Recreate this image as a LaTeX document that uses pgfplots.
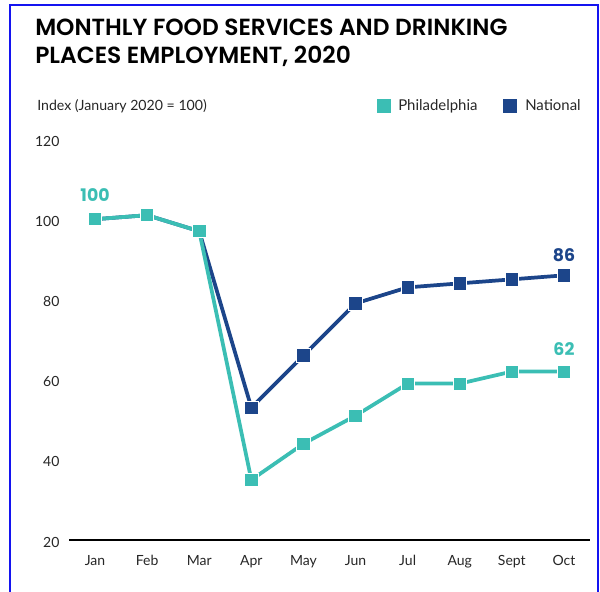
\documentclass[border=0pt]{standalone}
\usepackage{pgfplots}
\pgfplotsset{compat=1.18}
\usepackage{fontspec}
\setmainfont{Lato}
\newfontfamily\titlefont{Poppins SemiBold}
\newfontfamily\valfont{Poppins}
\definecolor{teal1}{RGB}{59,190,180}
\definecolor{navy1}{RGB}{28,69,138}
\definecolor{frameblue}{RGB}{20,20,240}
\begin{document}
\begin{tikzpicture}
\begin{scope}[x=0.75pt,y=0.75pt]
\useasboundingbox (0,0) rectangle (600,-592);
\draw[frameblue, line width=1.5pt] (10,-592) -- (10,-5) -- (598,-5) -- (598,-592);
\node[anchor=base west, inner sep=0pt, font=\titlefont\fontsize{17.5}{20}\selectfont] at (35,-36) {MONTHLY FOOD SERVICES AND DRINKING};
\node[anchor=base west, inner sep=0pt, font=\titlefont\fontsize{17.5}{20}\selectfont] at (35,-64) {PLACES EMPLOYMENT, 2020};
\node[anchor=base west, inner sep=0pt, font=\fontsize{10.6}{12}\selectfont, text=black!85] at (37,-111) {Index (January 2020 = 100)};
\fill[teal1] (377,-99) rectangle (391,-113);
\node[anchor=base west, inner sep=0pt, font=\fontsize{11.2}{12}\selectfont, text=black!85] at (398,-110) {Philadelphia};
\fill[navy1] (503,-99) rectangle (517,-113);
\node[anchor=base west, inner sep=0pt, font=\fontsize{11.2}{12}\selectfont, text=black!85] at (525,-110) {National};
\end{scope}
\begin{axis}[
  at={(51.75pt,-405pt)}, anchor=south west,
  scale only axis, width=390.75pt, height=300.75pt,
  xmin=-0.5, xmax=9.5, ymin=20, ymax=120,
  xtick={0,...,9},
  xticklabels={Jan,Feb,Mar,Apr,May,Jun,Jul,Aug,Sept,Oct},
  ytick={20,40,60,80,100,120},
  axis x line*=bottom, axis y line=none,
  x axis line style={line width=1.2pt, black, -},
  major tick length=0pt,
  ymajorgrids, grid style={gray!35, dashed, line width=0.5pt},
  tick label style={font=\fontsize{10.5}{12}\selectfont, text=black!85},
  /pgf/number format/assume math mode=true,
  xticklabel style={yshift=-8pt},
  clip=false,
]
\pgfplotsinvokeforeach{20,40,60,80,100,120}{
  \node[anchor=east, inner sep=0pt, font=\fontsize{10.5}{12}\selectfont, text=black!85] at (axis cs:-0.5,#1) [xshift=-7pt, yshift=-1.5pt] {#1};
}
\addplot[navy1, line width=2.8pt, mark=square*, mark size=5pt, mark options={fill=navy1, draw=white, line width=0.6pt}]
coordinates {(0,100) (1,101) (2,97) (3,53) (4,66) (5,79) (6,83) (7,84) (8,85) (9,86)};
\addplot[teal1, line width=2.8pt, mark=square*, mark size=5pt, mark options={fill=teal1, draw=white, line width=0.6pt}]
coordinates {(0,100) (1,101) (2,97) (3,35) (4,44) (5,51) (6,59) (7,59) (8,62) (9,62)};
\node[text=teal1, font=\valfont\fontsize{13}{14}\selectfont\bfseries] at (axis cs:0,106) {100};
\node[text=navy1, font=\valfont\fontsize{13}{14}\selectfont\bfseries] at (axis cs:9,91) {86};
\node[text=teal1, font=\valfont\fontsize{13}{14}\selectfont\bfseries] at (axis cs:9,67.5) {62};
\end{axis}
\end{tikzpicture}
\end{document}
